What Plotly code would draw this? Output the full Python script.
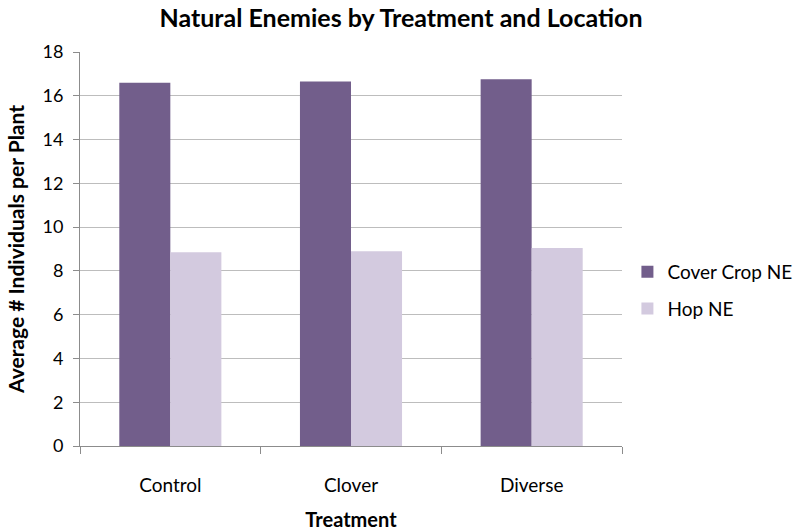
import plotly.graph_objects as go

categories = ["Control", "Clover", "Diverse"]
cover_crop_ne = [16.6, 16.65, 16.75]
hop_ne = [8.85, 8.9, 9.05]
y_ticks = [0, 2, 4, 6, 8, 10, 12, 14, 16, 18]

FONT = "Lato, Open Sans, sans-serif"

fig = go.Figure()
fig.add_trace(go.Bar(name="Cover Crop NE", x=categories, y=cover_crop_ne, legendgroup="cc",
                     marker=dict(color="#725E8B", line=dict(width=0))))
fig.add_trace(go.Bar(name="Hop NE", x=categories, y=hop_ne, legendgroup="hop",
                     marker=dict(color="#D3CADF", line=dict(width=0))))

fig.update_layout(
    width=802, height=531,
    margin=dict(l=80, r=180, t=52, b=85, autoexpand=False),
    paper_bgcolor="white", plot_bgcolor="white",
    barmode="group", bargap=0.435, bargroupgap=0,
    font=dict(family=FONT, size=19, color="black"),
    title=dict(text="<b>Natural Enemies by Treatment and Location</b>",
               x=0.5, xanchor="center", y=0.965, yanchor="middle",
               font=dict(family=FONT, size=25, color="black")),
    legend=dict(x=1.01, xanchor="left", y=0.395, yanchor="middle",
                font=dict(family=FONT, size=19), tracegroupgap=9,
                itemwidth=30, bgcolor="rgba(0,0,0,0)"),
    xaxis=dict(
        title=dict(text="<b>Treatment</b>", font=dict(family=FONT, size=20), standoff=18),
        showline=True, linecolor="#8C8C8C", linewidth=1,
        ticks="outside", tickson="boundaries", ticklen=7, tickcolor="#8C8C8C",
        showgrid=False, tickfont=dict(size=19), ticklabelstandoff=22,
    ),
    yaxis=dict(
        title=dict(text="<b>Average # Individuals per Plant</b>", font=dict(family=FONT, size=21), standoff=12),
        range=[0, 18], tickvals=y_ticks,
        showline=True, linecolor="#8C8C8C", linewidth=1,
        ticks="outside", ticklen=6, tickcolor="#8C8C8C",
        showgrid=True, gridcolor="#BDBDBD", gridwidth=1,
        zeroline=False, tickfont=dict(size=18), ticklabelstandoff=6,
    ),
)

fig.write_html("out.html")
